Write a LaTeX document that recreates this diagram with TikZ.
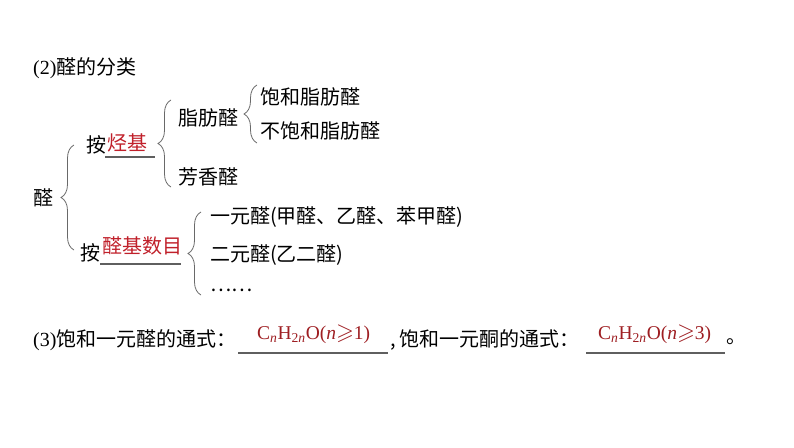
\documentclass[tikz,border=0pt]{standalone}
\usepackage{fontspec}
\usepackage{amssymb}
\setmainfont{Liberation Serif}
\newfontfamily\cjk{Noto Sans CJK SC}
\usetikzlibrary{positioning, decorations.pathreplacing}
\definecolor{keyred}{RGB}{192,32,42}
\definecolor{formred}{RGB}{158,30,34}
\definecolor{bracegray}{RGB}{105,105,105}
\definecolor{linegray}{RGB}{95,95,95}
\newcommand{\nsub}[1]{\textsubscript{#1\textit{n}}}

\begin{document}
\begin{tikzpicture}[
    x=1pt, y=-1pt,
    txt/.style={font=\cjk\fontsize{20}{24}\selectfont, anchor=west, inner sep=0pt},
    key/.style={txt, text=keyred},
    form/.style={font=\fontsize{19.5}{24}\selectfont, text=formred, anchor=west, inner sep=0pt},
    brc/.style={decorate, decoration={brace, amplitude=13pt}, draw=bracegray, line width=0.8pt},
    blank/.style={draw=linegray, line width=1.2pt}
]
    \useasboundingbox (0,0) rectangle (794,447);

    \node[txt] (title) at (33,68) {{\rmfamily(2)}醛的分类};
    \node[txt] (ald) at (33,198) {醛};

    % by hydrocarbon group
    \node[txt] (byhc) at (86,145) {按};
    \node[key] (hc) at (107,143) {烃基};
    \draw[blank] (105,157) -- (155,157);
    \node[txt] (fat) at (178,118) {脂肪醛};
    \node[txt] (arom) at (178,177) {芳香醛};
    \node[txt] (sat) at (260,97) {饱和脂肪醛};
    \node[txt] (unsat) at (260,131) {不饱和脂肪醛};

    % by number of aldehyde groups
    \node[txt] (bycho) at (80,253) {按};
    \node[key] (cho) at (102,246) {醛基数目};
    \draw[blank] (100,264) -- (181,264);
    \node[txt] (mono) at (210,217) {一元醛(甲醛、乙醛、苯甲醛)};
    \node[txt] (di) at (210,255) {二元醛(乙二醛)};
    \node[txt] (etc) at (210,290) {……};

    \draw[brc] (74,250) -- (74,145);
    \draw[brc] (171,187) -- (171,100);
    \draw[brc] (257,143) -- (257,85);
    \draw[brc] (201,295) -- (201,212);

    % general formulas
    \node[txt] (ask1) at (33,340) {{\rmfamily(3)}饱和一元醛的通式：};
    \node[form] (f1) at (257,334) {C\nsub{}H\nsub{2}O(\textit{n}{\fontsize{23}{24}\selectfont$\geqslant$}1)};
    \draw[blank] (238,353) -- (388,353);
    \node[txt] (ask2) at (390,340) {,\,饱和一元酮的通式：};
    \node[form] (f2) at (598,334) {C\nsub{}H\nsub{2}O(\textit{n}{\fontsize{23}{24}\selectfont$\geqslant$}3)};
    \draw[blank] (586,353) -- (725,353);
    \node[txt] (stop) at (726,342) {。};
\end{tikzpicture}
\end{document}
